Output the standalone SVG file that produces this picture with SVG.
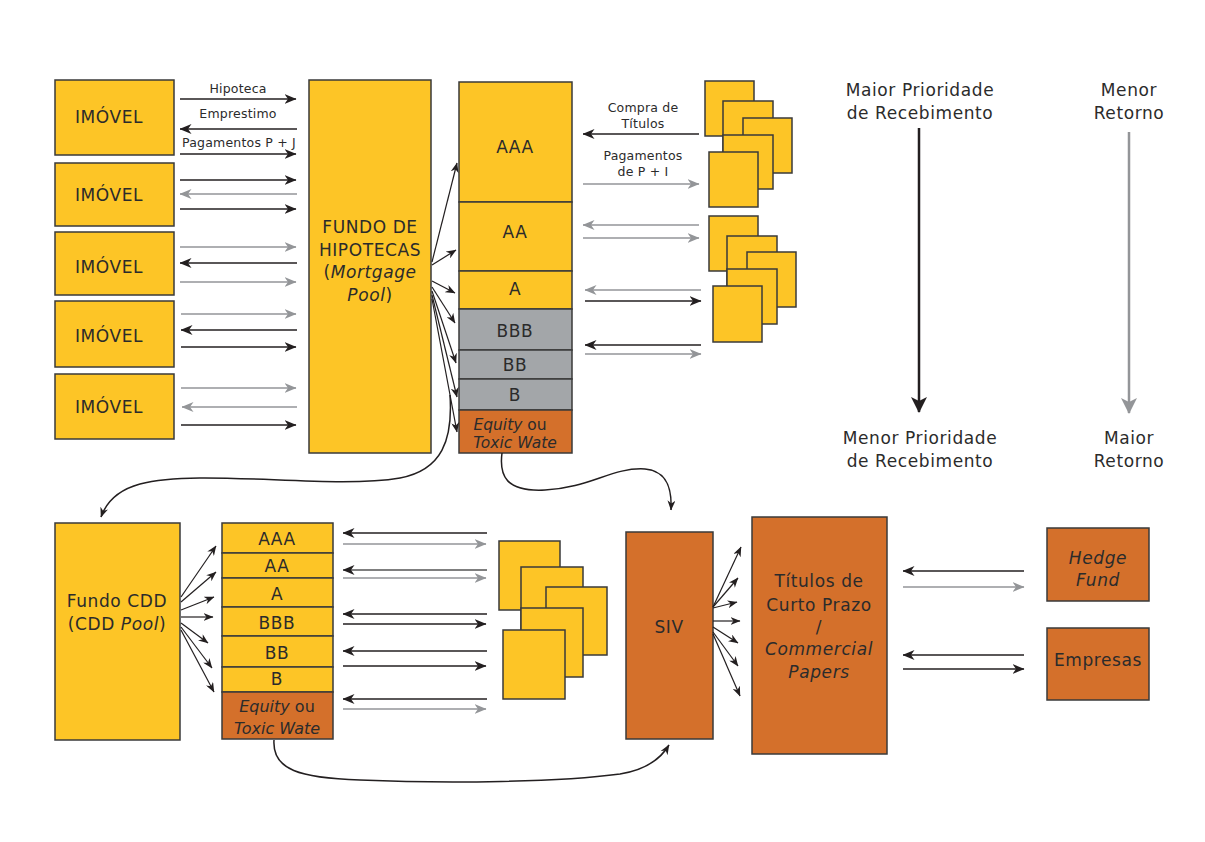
<svg xmlns="http://www.w3.org/2000/svg" width="1205" height="842" viewBox="0 0 1205 842">
<style>
.t{font-family:"DejaVu Sans","Liberation Sans",sans-serif;fill:#2b2b2b;text-anchor:middle}
.big{font-size:17px;letter-spacing:0.6px}
.sm{font-size:12.5px;letter-spacing:0.2px}
.it{font-style:italic}
.y{fill:#fdc526;stroke:#3a3a3a;stroke-width:1.5}
.g{fill:#a3a6a9;stroke:#3a3a3a;stroke-width:1.5}
.o{fill:#d4702b;stroke:#3a3a3a;stroke-width:1.5}
.ab{stroke:#231f20;stroke-width:1.5;fill:none;marker-end:url(#mb)}
.ag{stroke:#939598;stroke-width:1.5;fill:none;marker-end:url(#mg)}
.af{stroke:#231f20;stroke-width:1.2;fill:none;marker-end:url(#mf)}
.cv{stroke:#231f20;stroke-width:1.5;fill:none;marker-end:url(#mf)}
</style>
<defs>
<marker id="mb" viewBox="0 0 12 10" refX="11.5" refY="5" markerWidth="12" markerHeight="10" markerUnits="userSpaceOnUse" orient="auto"><path d="M0,0 L12,5 L0,10 L3.5,5 Z" fill="#231f20"/></marker>
<marker id="mg" viewBox="0 0 12 10" refX="11.5" refY="5" markerWidth="12" markerHeight="10" markerUnits="userSpaceOnUse" orient="auto"><path d="M0,0 L12,5 L0,10 L3.5,5 Z" fill="#939598"/></marker>
<marker id="mf" viewBox="0 0 10 8" refX="9.5" refY="4" markerWidth="10" markerHeight="8" markerUnits="userSpaceOnUse" orient="auto"><path d="M0,0 L10,4 L0,8 L3,4 Z" fill="#231f20"/></marker>
<marker id="mvb" viewBox="0 0 16 16" refX="15" refY="8" markerWidth="16" markerHeight="16" markerUnits="userSpaceOnUse" orient="auto"><path d="M0,0 L16,8 L0,16 L4,8 Z" fill="#231f20"/></marker>
<marker id="mvg" viewBox="0 0 16 16" refX="15" refY="8" markerWidth="16" markerHeight="16" markerUnits="userSpaceOnUse" orient="auto"><path d="M0,0 L16,8 L0,16 L4,8 Z" fill="#939598"/></marker>
</defs>
<rect x="0" y="0" width="1205" height="842" fill="#ffffff"/>

<!-- IMÓVEL nodes -->
<g id="imovel1"><rect class="y" x="55" y="80" width="119" height="75"/><text class="t big" x="109" y="123">IMÓVEL</text></g>
<g id="imovel2"><rect class="y" x="55" y="163" width="119" height="63"/><text class="t big" x="109" y="201">IMÓVEL</text></g>
<g id="imovel3"><rect class="y" x="55" y="232" width="119" height="63"/><text class="t big" x="109" y="273">IMÓVEL</text></g>
<g id="imovel4"><rect class="y" x="55" y="301" width="119" height="66"/><text class="t big" x="109" y="342">IMÓVEL</text></g>
<g id="imovel5"><rect class="y" x="55" y="374" width="119" height="65"/><text class="t big" x="109" y="413">IMÓVEL</text></g>

<!-- Fundo de hipotecas -->
<g id="fundo-hipotecas"><rect class="y" x="309" y="80" width="122" height="373"/>
<text class="t big" x="370" y="233">FUNDO DE</text>
<text class="t big" x="370" y="256">HIPOTECAS</text>
<text class="t big" x="370" y="278">(<tspan class="it">Mortgage</tspan></text>
<text class="t big" x="370" y="301"><tspan class="it">Pool</tspan>)</text></g>

<!-- MBS tranches -->
<g id="tranches-mbs">
<rect class="y" x="459" y="82" width="113" height="120"/><text class="t big" x="515" y="153">AAA</text>
<rect class="y" x="459" y="202" width="113" height="69"/><text class="t big" x="515" y="238">AA</text>
<rect class="y" x="459" y="271" width="113" height="38"/><text class="t big" x="515" y="295">A</text>
<rect class="g" x="459" y="309" width="113" height="41"/><text class="t big" x="515" y="337">BBB</text>
<rect class="g" x="459" y="350" width="113" height="29"/><text class="t big" x="515" y="371">BB</text>
<rect class="g" x="459" y="379" width="113" height="31"/><text class="t big" x="515" y="401">B</text>
<rect class="o" x="459" y="410" width="113" height="43"/>
<text class="t" style="font-size:15.5px" x="510" y="430"><tspan class="it">Equity</tspan> ou</text>
<text class="t it" style="font-size:15.5px" x="515" y="448">Toxic Wate</text>
</g>

<!-- Investors top (documents) -->
<g id="investidores1">
<rect class="y" x="705" y="81" width="49" height="55"/>
<rect class="y" x="723" y="101" width="50" height="55"/>
<rect class="y" x="743" y="118" width="49" height="55"/>
<rect class="y" x="723" y="135" width="50" height="54"/>
<rect class="y" x="709" y="152" width="49" height="55"/>
</g>
<g id="investidores2">
<rect class="y" x="709" y="216" width="49" height="55"/>
<rect class="y" x="727" y="236" width="50" height="55"/>
<rect class="y" x="747" y="252" width="49" height="55"/>
<rect class="y" x="727" y="269" width="50" height="55"/>
<rect class="y" x="713" y="286" width="49" height="56"/>
</g>

<!-- priority / return legend -->
<g id="prioridade">
<text class="t big" x="920" y="96">Maior Prioridade</text>
<text class="t big" x="920" y="119">de Recebimento</text>
<text class="t big" x="920" y="444">Menor Prioridade</text>
<text class="t big" x="920" y="467">de Recebimento</text>
</g>
<g id="retorno">
<text class="t big" x="1129" y="96">Menor</text>
<text class="t big" x="1129" y="119">Retorno</text>
<text class="t big" x="1129" y="444">Maior</text>
<text class="t big" x="1129" y="467">Retorno</text>
</g>

<!-- CDD -->
<g id="fundo-cdd"><rect class="y" x="55" y="523" width="125" height="217"/>
<text class="t big" x="117" y="607">Fundo CDD</text>
<text class="t big" x="117" y="630">(CDD <tspan class="it">Pool</tspan>)</text></g>

<g id="tranches-cdd">
<rect class="y" x="222" y="523" width="111" height="30"/><text class="t big" x="277" y="545">AAA</text>
<rect class="y" x="222" y="553" width="111" height="25"/><text class="t big" x="277" y="572">AA</text>
<rect class="y" x="222" y="578" width="111" height="29"/><text class="t big" x="277" y="600">A</text>
<rect class="y" x="222" y="607" width="111" height="29"/><text class="t big" x="277" y="629">BBB</text>
<rect class="y" x="222" y="636" width="111" height="31"/><text class="t big" x="277" y="659">BB</text>
<rect class="y" x="222" y="667" width="111" height="25"/><text class="t big" x="277" y="685">B</text>
<rect class="o" x="222" y="692" width="111" height="47"/>
<text class="t" style="font-size:16px" x="277" y="712"><tspan class="it">Equity</tspan> ou</text>
<text class="t it" style="font-size:16px" x="277" y="734">Toxic Wate</text>
</g>

<g id="investidores3">
<rect class="y" x="499" y="541" width="61" height="69"/>
<rect class="y" x="521" y="567" width="62" height="69"/>
<rect class="y" x="546" y="587" width="61" height="68"/>
<rect class="y" x="521" y="608" width="62" height="69"/>
<rect class="y" x="503" y="630" width="62" height="69"/>
</g>

<g id="siv"><rect class="o" x="626" y="532" width="87" height="207"/><text class="t big" x="669" y="633">SIV</text></g>

<g id="titulos"><rect class="o" x="752" y="517" width="135" height="237"/>
<text class="t big" x="819" y="587">Títulos de</text>
<text class="t big" x="819" y="611">Curto Prazo</text>
<text class="t big" x="819" y="633">/</text>
<text class="t big it" x="819" y="655">Commercial</text>
<text class="t big it" x="819" y="678">Papers</text></g>

<g id="hedge-fund"><rect class="o" x="1047" y="528" width="102" height="73"/>
<text class="t big it" x="1098" y="564">Hedge</text>
<text class="t big it" x="1098" y="586">Fund</text></g>

<g id="empresas"><rect class="o" x="1047" y="628" width="102" height="72"/>
<text class="t big" x="1098" y="666">Empresas</text></g>

<!-- connectors -->
<g id="connectors">
<!-- imovel 1 -->
<text class="t sm" x="238" y="93">Hipoteca</text>
<line class="ab" x1="180" y1="99" x2="296" y2="99"/>
<text class="t sm" x="238" y="118">Emprestimo</text>
<line class="ab" x1="297" y1="129" x2="180" y2="129"/>
<text class="t sm" x="239" y="147">Pagamentos P + J</text>
<line class="ab" x1="180" y1="154" x2="296" y2="154"/>
<!-- imovel 2 -->
<line class="ab" x1="180" y1="180" x2="296" y2="180"/>
<line class="ag" x1="297" y1="194" x2="180" y2="194"/>
<line class="ab" x1="180" y1="209" x2="296" y2="209"/>
<!-- imovel 3 -->
<line class="ag" x1="180" y1="247" x2="296" y2="247"/>
<line class="ab" x1="297" y1="263" x2="180" y2="263"/>
<line class="ag" x1="180" y1="282" x2="296" y2="282"/>
<!-- imovel 4 -->
<line class="ag" x1="181" y1="314" x2="296" y2="314"/>
<line class="ab" x1="297" y1="330" x2="181" y2="330"/>
<line class="ab" x1="181" y1="347" x2="296" y2="347"/>
<!-- imovel 5 -->
<line class="ag" x1="181" y1="388" x2="296" y2="388"/>
<line class="ag" x1="297" y1="407" x2="182" y2="407"/>
<line class="ab" x1="181" y1="425" x2="296" y2="425"/>

<!-- fan to MBS tranches -->
<line class="af" x1="432" y1="262" x2="457" y2="163"/>
<line class="af" x1="432" y1="265" x2="456" y2="250"/>
<line class="af" x1="432" y1="281" x2="455" y2="293"/>
<line class="af" x1="432" y1="287" x2="455" y2="323"/>
<line class="af" x1="432" y1="291" x2="456" y2="363"/>
<line class="af" x1="432" y1="295" x2="457" y2="397"/>
<line class="af" x1="432" y1="299" x2="457" y2="432"/>

<!-- tranches <-> investors top -->
<text class="t sm" x="643" y="112">Compra de</text>
<text class="t sm" x="643" y="128">Títulos</text>
<line class="ab" x1="699" y1="134" x2="583" y2="134"/>
<text class="t sm" x="643" y="160">Pagamentos</text>
<text class="t sm" x="643" y="176">de P + I</text>
<line class="ag" x1="583" y1="184" x2="699" y2="184"/>
<line class="ag" x1="699" y1="225" x2="583" y2="225"/>
<line class="ag" x1="583" y1="238" x2="699" y2="238"/>
<line class="ag" x1="701" y1="290" x2="585" y2="290"/>
<line class="ab" x1="585" y1="301" x2="701" y2="301"/>
<line class="ab" x1="701" y1="345" x2="585" y2="345"/>
<line class="ag" x1="585" y1="354" x2="701" y2="354"/>

<!-- legend arrows -->
<line x1="919" y1="128" x2="919" y2="412" stroke="#231f20" stroke-width="2.5" marker-end="url(#mvb)"/>
<line x1="1129" y1="132" x2="1129" y2="413" stroke="#939598" stroke-width="2.5" marker-end="url(#mvg)"/>

<!-- curves -->
<path class="cv" d="M450,395 C453,440 442,470 400,478 C330,490 200,468 140,484 C118,490 106,503 101,517"/>
<path class="cv" d="M502,453 C499,476 506,492 545,490 C590,488 612,467 645,469 C668,471 672,490 671,510"/>
<path class="cv" d="M274,740 C272,770 300,778 360,780 C450,784 560,782 620,774 C645,770 660,760 669,745"/>

<!-- fan to CDD tranches -->
<line class="af" x1="181" y1="597" x2="216" y2="546"/>
<line class="af" x1="181" y1="602" x2="216" y2="572"/>
<line class="af" x1="181" y1="610" x2="214" y2="597"/>
<line class="af" x1="181" y1="617" x2="213" y2="617"/>
<line class="af" x1="181" y1="623" x2="208" y2="643"/>
<line class="af" x1="181" y1="627" x2="212" y2="668"/>
<line class="af" x1="181" y1="630" x2="214" y2="692"/>

<!-- CDD tranches <-> investors -->
<line class="ab" x1="487" y1="533" x2="343" y2="533"/>
<line class="ag" x1="343" y1="544" x2="486" y2="544"/>
<line class="ab" x1="487" y1="570" x2="343" y2="570" style="stroke:#555"/>
<line class="ag" x1="343" y1="578" x2="486" y2="578"/>
<line class="ab" x1="487" y1="614" x2="343" y2="614"/>
<line class="ab" x1="343" y1="624" x2="486" y2="624"/>
<line class="ab" x1="487" y1="651" x2="343" y2="651"/>
<line class="ab" x1="343" y1="666" x2="486" y2="666"/>
<line class="ab" x1="487" y1="699" x2="343" y2="699"/>
<line class="ag" x1="343" y1="709" x2="486" y2="709"/>

<!-- SIV fan -->
<line class="af" x1="713" y1="607" x2="741" y2="547"/>
<line class="af" x1="713" y1="607" x2="738" y2="578"/>
<line class="af" x1="713" y1="608" x2="737" y2="602"/>
<line class="af" x1="713" y1="621" x2="740" y2="621"/>
<line class="af" x1="713" y1="627" x2="738" y2="643"/>
<line class="af" x1="713" y1="632" x2="738" y2="666"/>
<line class="af" x1="713" y1="634" x2="740" y2="696"/>

<!-- titulos <-> hedge fund / empresas -->
<line class="ab" x1="1024" y1="571" x2="903" y2="571"/>
<line class="ag" x1="903" y1="587" x2="1024" y2="587"/>
<line class="ab" x1="1024" y1="655" x2="903" y2="655"/>
<line class="ab" x1="903" y1="669" x2="1024" y2="669"/>
</g>
</svg>
